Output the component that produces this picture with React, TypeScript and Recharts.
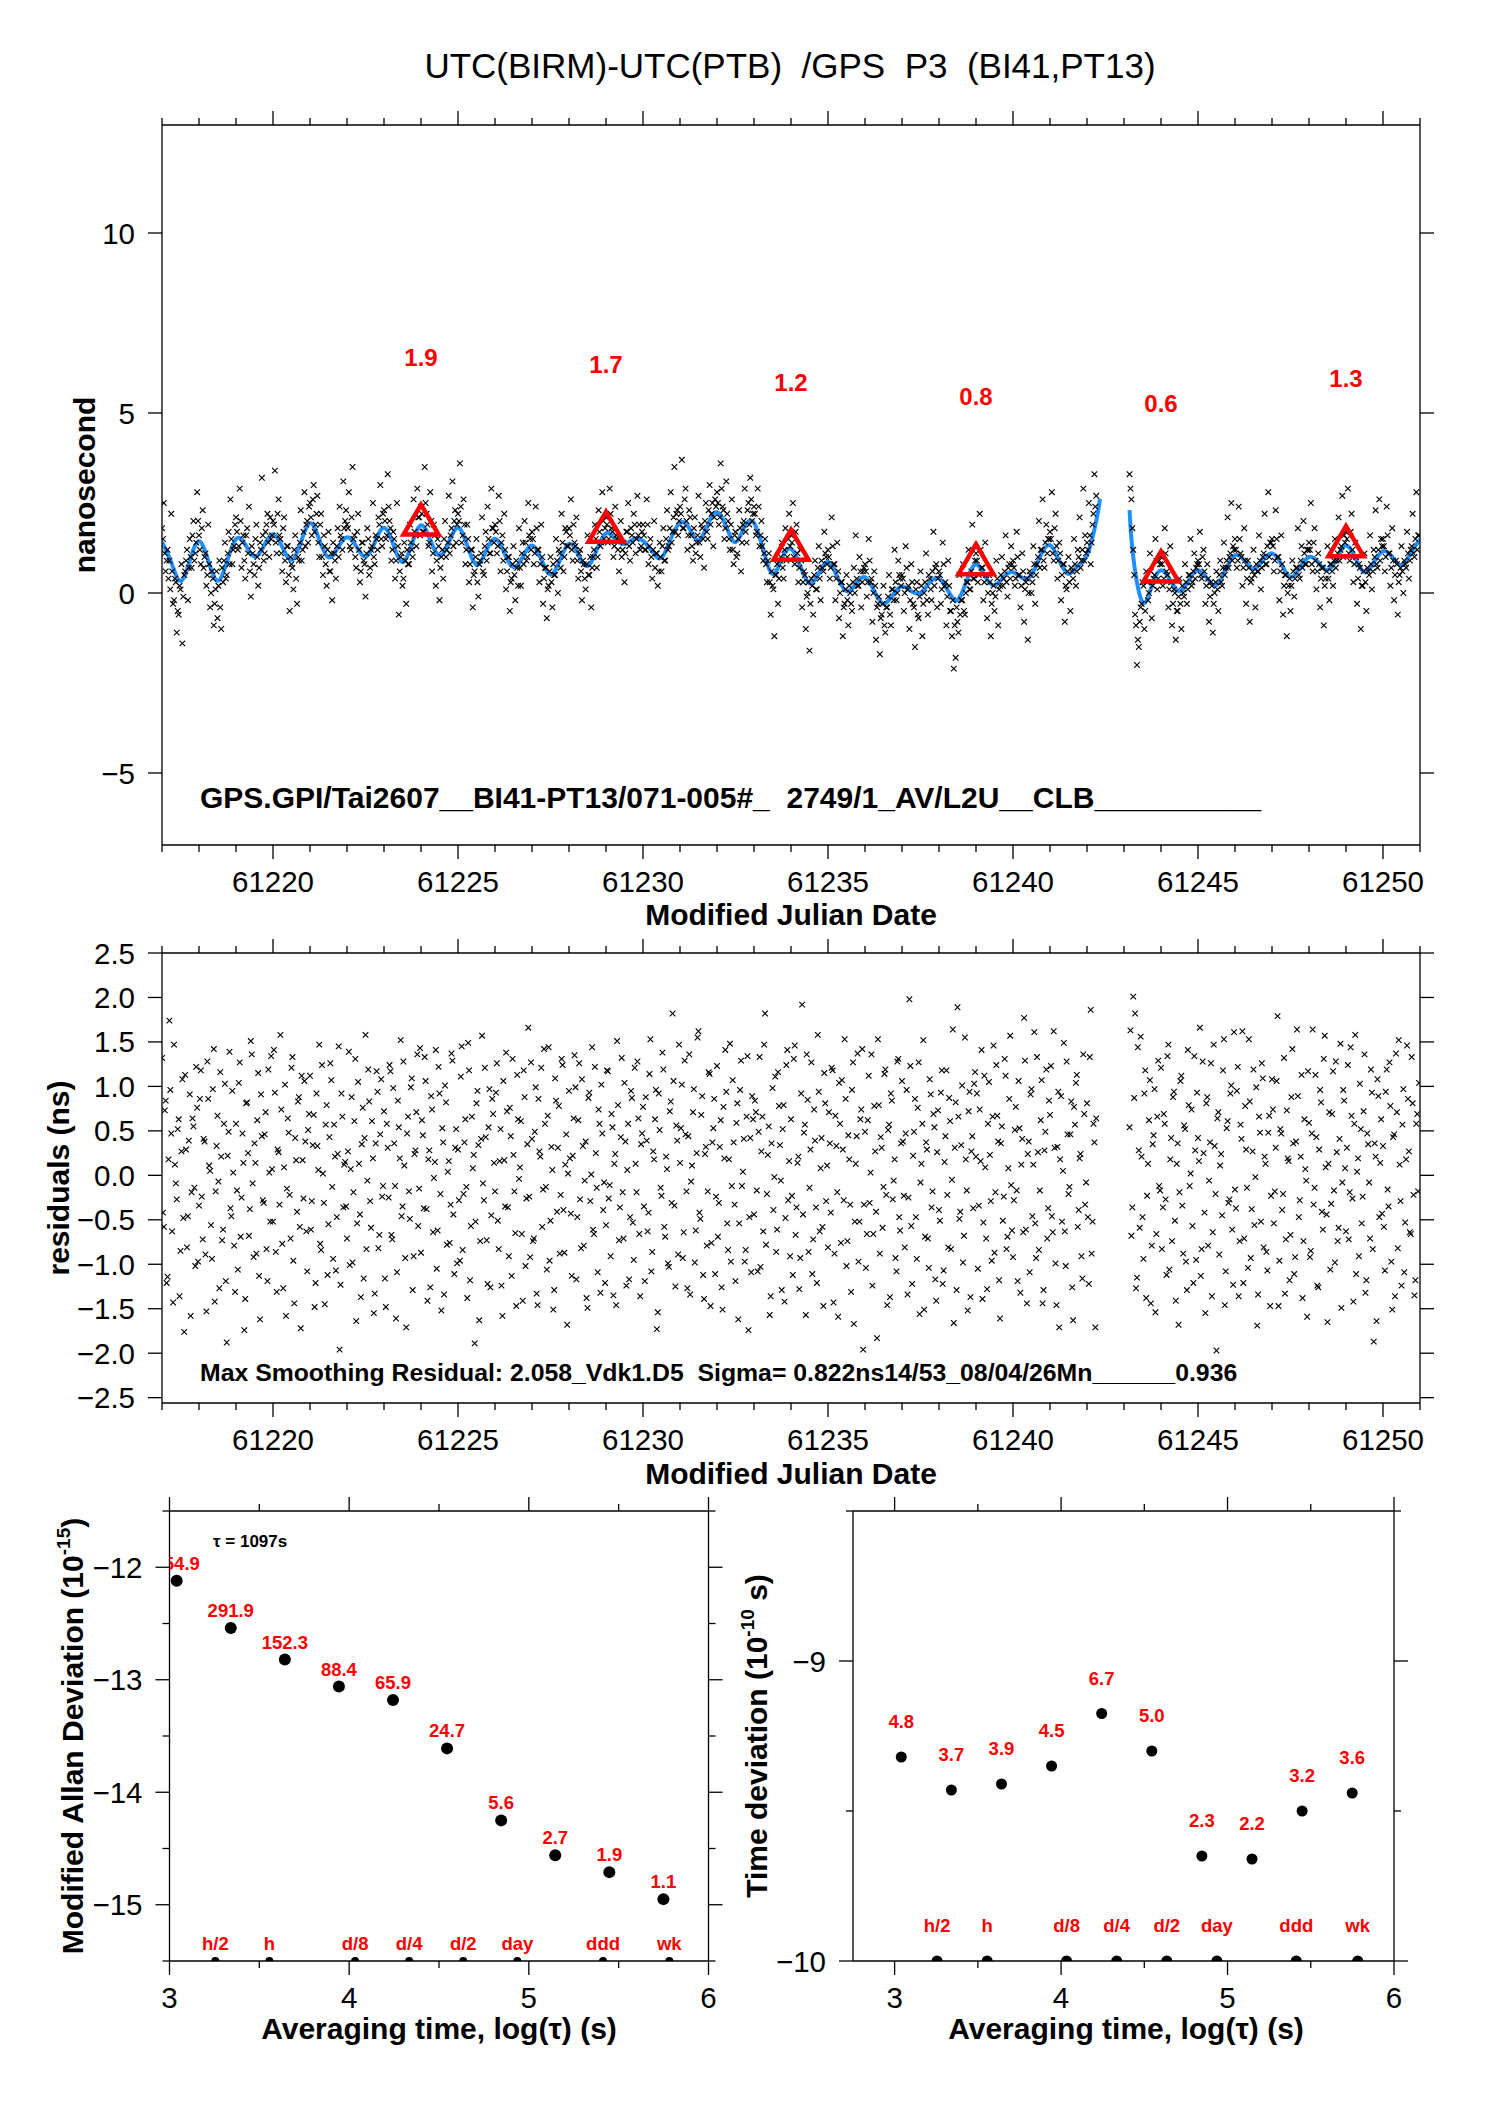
import React from 'react'
import { ComposedChart, Scatter, Line, XAxis, YAxis } from 'recharts'

const FONT = '"Liberation Sans", Arial, Helvetica, sans-serif'
const RED = '#ff0000'
const BLUE = '#1e90ff'

// GPS P3 common-view points: two interleaved runs, each one point per 0.05 day
const CLOCK_T0 = 61217
const CLOCK_T0_B = 61217.025
const CLOCK_STEP = 0.05

// UTC(BIRM)-UTC(PTB), ns (20 values per day), first run
const clockNs: (number | null)[] = [
  1.8, 2.5, 0.6, 1.2, 0.9, 2.2, -0.3, 0.4, -1.1, -0.6, 0.1, -1.4, 0.5, 0.9, -0.2, 1.5, 0.7, 2.0, 1.1, 2.8, // 61217
  1.6, 0.8, 2.3, 1.0, 0.2, 1.9, -0.4, 0.6, -0.9, 0.1, -0.7, 0.9, -1.0, 0.3, 1.4, 0.5, 1.7, 2.6, 0.8, 1.3, // 61218
  2.1, 1.2, 2.9, 0.7, 1.6, 0.4, 1.8, 2.4, -0.1, 1.1, 0.5, 1.9, 0.2, 1.4, 3.2, 0.9, 1.7, 2.2, 1.0, 1.5, // 61219
  2.0, 3.4, 1.1, 2.6, 1.5, 0.6, 2.1, 0.3, 1.3, -0.5, 0.8, 0.1, 1.6, -0.3, 0.9, 2.3, 1.2, 2.8, 1.9, 1.4, // 61220
  2.5, 1.6, 3.0, 1.9, 2.7, 1.0, 2.2, 0.5, 1.3, 0.2, 1.7, 0.6, -0.2, 1.1, 0.4, 1.8, 2.4, 1.5, 3.1, 2.0, // 61221
  1.9, 2.8, 1.2, 3.5, 1.6, 0.7, 2.2, 0.3, 1.4, 0.9, -0.1, 1.8, 0.5, 1.2, 2.5, 0.8, 1.5, 2.1, 3.0, 1.3, // 61222
  2.3, 1.5, 3.3, 2.0, 0.9, 1.7, 0.4, 2.5, -0.6, 1.0, 0.2, 1.4, -0.3, 0.8, 1.9, 1.2, 2.6, 1.6, 2.9, 2.1, // 61223
  2.4, 1.7, 3.5, 2.2, 1.3, 2.8, 0.6, 1.9, 0.2, 1.5, -0.2, 1.0, 0.4, 2.0, 1.2, 2.7, 1.6, 3.1, 2.0, 1.4, // 61224
  2.2, 3.6, 1.4, 2.6, 0.8, 1.9, 0.3, 1.2, -0.4, 0.6, 1.5, -0.1, 0.9, 2.1, 0.5, 1.7, 2.4, 1.1, 2.9, 1.8, // 61225
  1.9, 1.1, 2.7, 0.6, 1.6, 2.2, 0.1, 1.0, -0.5, 0.4, 1.3, -0.2, 0.7, 1.8, 0.2, 1.4, 2.0, 0.9, 2.5, 1.5, // 61226
  1.7, 0.8, 2.4, 1.2, 0.3, 1.9, -0.3, 0.7, -0.7, 0.2, 1.0, -0.4, 0.5, 1.5, 0.0, 1.1, 2.2, 0.6, 1.8, 1.3, // 61227
  1.8, 2.6, 0.9, 1.4, 2.1, 0.4, 1.2, -0.2, 0.8, 0.1, 1.6, 0.5, -0.4, 1.0, 1.9, 0.7, 2.3, 1.3, 2.8, 1.5, // 61228
  2.1, 1.4, 2.9, 1.8, 1.0, 2.4, 1.5, 0.6, 2.0, 1.2, 0.3, 1.7, 2.5, 0.9, 1.6, 2.2, 1.1, 2.7, 1.9, 1.3, // 61229
  1.9, 1.2, 2.6, 0.8, 1.5, 0.4, 2.0, 1.1, 0.2, 1.4, 0.6, 1.8, 0.9, 2.3, 1.3, 2.8, 1.7, 3.5, 2.2, 1.6, // 61230
  2.4, 3.7, 1.8, 2.9, 1.2, 2.3, 1.6, 0.9, 2.1, 1.4, 2.7, 1.0, 1.8, 0.7, 2.5, 1.5, 3.0, 2.2, 1.3, 2.6, // 61231
  2.8, 1.9, 3.6, 2.4, 1.5, 3.1, 2.0, 1.2, 2.6, 0.8, 1.7, 1.1, 2.3, 0.6, 1.9, 2.9, 1.4, 2.5, 3.2, 2.0, // 61232
  2.4, 1.6, 2.9, 1.3, 2.0, 0.9, 1.5, 0.3, 1.1, -0.6, 0.2, -1.2, 0.5, -0.3, 0.9, 1.4, 0.4, 1.8, 1.0, 2.2, // 61233
  1.6, 2.5, 0.8, 1.9, 0.3, 1.2, -0.4, 0.6, -1.0, 0.0, -1.6, 0.4, -0.6, 0.9, 0.1, 1.3, -0.2, 0.7, 1.7, 1.0, // 61234
  1.2, 0.4, 2.1, 0.8, -0.2, 1.4, -0.7, 0.3, -1.2, -0.3, 0.5, -0.9, 0.0, -0.5, 0.7, 1.6, 0.2, 1.0, -0.4, 0.6, // 61235
  0.8, -0.1, 1.5, 0.3, -0.8, 0.6, -1.3, -0.3, -1.7, -0.6, 0.2, -1.1, -0.4, 0.5, -0.9, 0.1, 1.2, -0.2, 0.9, 0.4, // 61236
  0.5, -0.5, 1.3, 0.1, -1.0, 0.8, -0.3, -1.5, 0.3, -0.7, 0.6, -1.2, 0.0, 1.1, -0.6, 0.4, -0.2, 1.7, 0.7, -0.4, // 61237
  0.6, -0.3, 1.4, 0.2, -0.9, 0.9, -0.5, -1.2, -2.1, -1.8, -0.8, 0.5, -0.2, 0.8, -0.6, 0.3, 1.2, 0.1, 1.9, 0.4, // 61238
  1.1, 0.3, 2.2, 0.7, -0.2, 1.4, -0.7, 0.5, -1.2, 0.0, -0.5, 0.9, -0.9, 0.2, 1.0, 0.4, 1.6, -0.1, 0.8, 1.3, // 61239
  0.9, 0.2, 1.7, 0.5, -0.4, 1.1, -0.8, 0.3, -1.3, 0.6, 0.0, 1.3, -0.3, 0.8, 2.0, 1.2, 2.6, 0.7, 1.9, 1.5, // 61240
  1.7, 2.8, 0.9, 2.2, 0.4, 1.4, -0.2, 0.8, -0.8, 0.1, 1.0, -0.5, 0.6, 1.5, 0.2, 1.2, 2.1, 0.9, 2.9, 1.6, // 61241
  1.4, 2.5, 0.8, 1.9, 3.3, 2.7, null, null, null, null, null, null, null, null, null, null, null, null, null, null, // 61242
  null, null, null, 3.3, 2.6, 1.2, -0.6, -2.0, -1.5, -0.4, 0.3, -1.0, 0.6, -0.2, 1.1, -0.7, 0.4, 1.5, 0.1, 0.9, // 61243
  1.0, 0.2, 1.8, 0.6, -0.4, 1.3, -0.9, 0.1, -1.3, -0.5, 0.4, -1.0, 0.0, 0.8, -0.3, 0.5, 1.5, 0.3, 1.1, 0.7, // 61244
  0.9, 1.7, 0.4, 1.2, -0.3, 0.8, -0.8, 0.3, -1.1, 0.0, 0.6, -0.5, 0.9, 0.2, 1.4, 0.7, 2.1, 1.0, 2.5, 1.3, // 61245
  1.5, 0.7, 2.4, 1.1, 0.2, 1.8, -0.3, 0.9, -0.8, 0.4, 1.2, -0.4, 0.6, 1.6, 0.1, 1.0, 2.2, 0.8, 2.8, 1.4, // 61246
  1.5, 0.6, 2.3, 1.0, -0.2, 1.6, -0.6, 0.5, -1.2, 0.2, -0.5, 0.9, -0.1, 0.7, 1.8, 0.4, 1.3, 2.0, 0.8, 1.2, // 61247
  1.4, 2.5, 0.6, 1.8, 0.1, 1.1, -0.4, 0.7, -0.9, 0.4, 1.3, -0.2, 0.8, 0.2, 1.5, 0.9, 2.1, 1.2, 2.7, 1.6, // 61248
  1.7, 2.9, 0.9, 2.2, 0.3, 1.4, -0.3, 0.8, -1.0, 0.2, 1.1, -0.5, 0.6, 1.6, 0.1, 1.2, 2.3, 0.7, 2.6, 1.5, // 61249
  1.5, 0.6, 2.4, 1.1, 0.2, 1.8, -0.2, 0.9, -0.6, 0.5, 1.3, 0.0, 0.8, 1.7, 0.4, 1.2, 2.2, 1.0, 2.8, 1.6, // 61250
]

// second run, offset by half a step
const clockNsB: (number | null)[] = [
  1.5, 1.1, 0.9, 0.4, 0.1, 0.6, -0.2, 0.3, -0.5, 0.2, 0.8, -0.1, 0.6, 1.2, 0.7, 1.0, 1.6, 0.9, 1.4, 2.0, // 61217
  1.2, 1.8, 0.7, 1.1, 0.5, 0.8, 0.0, 0.4, -0.3, 0.6, 0.2, -0.4, 0.7, 0.9, 0.4, 1.1, 0.8, 1.5, 1.2, 1.9, // 61218
  1.7, 1.3, 2.0, 1.4, 0.9, 1.6, 1.1, 0.6, 1.3, 0.8, 1.5, 1.0, 0.7, 1.2, 1.6, 1.1, 1.9, 1.4, 2.1, 1.6, // 61219
  1.9, 1.4, 2.2, 1.6, 1.1, 1.8, 0.9, 1.3, 0.5, 1.0, 0.7, 1.2, 0.4, 1.0, 1.4, 0.9, 1.7, 1.3, 2.0, 2.4, // 61220
  2.1, 2.6, 1.7, 2.2, 1.4, 1.9, 1.0, 1.6, 0.8, 1.2, 0.6, 1.1, 1.4, 0.9, 1.3, 1.0, 1.6, 1.2, 1.8, 2.3, // 61221
  1.8, 1.3, 2.1, 1.5, 1.0, 1.7, 1.2, 0.6, 1.4, 0.8, 1.1, 1.5, 0.7, 1.3, 1.0, 1.6, 1.2, 1.9, 1.5, 2.2, // 61222
  2.0, 1.6, 2.4, 1.8, 1.2, 1.5, 0.9, 1.3, 0.6, 1.1, 0.4, 0.9, 1.2, 0.8, 1.4, 1.0, 1.7, 1.3, 2.1, 1.6, // 61223
  2.2, 1.7, 2.5, 1.9, 1.4, 2.0, 1.1, 1.6, 0.9, 1.3, 0.7, 1.2, 1.5, 1.0, 1.4, 1.1, 1.8, 1.3, 2.3, 1.9, // 61224
  2.0, 2.4, 1.6, 1.9, 1.2, 1.5, 0.8, 1.2, 0.5, 1.0, 0.3, 0.8, 1.1, 0.6, 1.3, 0.9, 1.5, 1.1, 1.8, 1.4, // 61225
  1.7, 1.3, 2.0, 1.4, 0.9, 1.2, 0.6, 1.0, 0.3, 0.8, 0.5, 0.9, 0.2, 0.7, 1.1, 0.8, 1.4, 1.0, 1.6, 1.2, // 61226
  1.5, 1.1, 1.8, 1.2, 0.8, 1.0, 0.4, 0.7, 0.1, 0.6, 0.3, 0.8, 0.5, 0.9, 1.2, 0.7, 1.4, 1.0, 1.7, 1.3, // 61227
  1.6, 1.2, 1.9, 1.3, 0.9, 1.1, 0.6, 0.9, 0.4, 0.8, 0.5, 1.0, 0.7, 1.2, 1.5, 1.0, 1.7, 1.4, 2.0, 1.8, // 61228
  1.9, 1.5, 2.2, 1.7, 1.3, 1.6, 1.2, 1.5, 1.0, 1.4, 1.1, 1.7, 1.3, 1.8, 1.4, 1.9, 1.5, 1.6, 1.2, 1.7, // 61229
  1.6, 1.2, 1.9, 1.3, 1.0, 1.2, 0.7, 1.1, 0.6, 1.0, 1.3, 0.9, 1.5, 1.2, 1.8, 1.4, 2.1, 1.7, 2.3, 2.0, // 61230
  2.2, 1.8, 2.6, 2.0, 1.6, 2.1, 1.3, 1.8, 1.1, 1.6, 1.4, 1.9, 1.5, 2.0, 1.7, 2.3, 1.9, 2.5, 2.1, 2.4, // 61231
  2.5, 2.1, 2.9, 2.3, 1.8, 2.2, 1.5, 1.9, 1.2, 1.6, 1.0, 1.5, 1.8, 1.4, 2.0, 1.7, 2.3, 1.9, 2.6, 2.2, // 61232
  2.2, 1.7, 2.4, 1.6, 1.3, 1.1, 0.8, 0.9, 0.3, 0.6, 0.1, 0.5, 0.8, 0.4, 1.0, 0.7, 1.2, 0.9, 1.5, 1.3, // 61233
  1.4, 1.0, 1.7, 1.1, 0.7, 0.9, 0.3, 0.5, -0.1, 0.3, -0.3, 0.2, 0.5, 0.1, 0.7, 0.4, 0.9, 0.6, 1.1, 0.8, // 61234
  1.0, 0.7, 1.3, 0.8, 0.4, 0.6, 0.0, 0.3, -0.4, 0.1, -0.2, 0.2, -0.3, 0.3, 0.0, 0.4, 0.2, 0.6, 0.3, 0.7, // 61235
  0.6, 0.3, 0.9, 0.4, 0.0, 0.2, -0.4, -0.1, -0.7, -0.3, -0.9, -0.4, -0.1, -0.6, 0.1, -0.2, 0.3, 0.0, 0.5, 0.2, // 61236
  0.4, 0.0, 0.7, 0.2, -0.2, 0.3, -0.4, 0.1, -0.6, -0.1, 0.2, -0.3, 0.3, -0.2, 0.5, 0.1, 0.6, 0.2, 0.8, 0.4, // 61237
  0.5, 0.1, 0.8, 0.3, -0.1, 0.2, -0.5, -0.2, -0.9, -0.4, -1.1, -0.6, -0.2, -0.5, 0.0, 0.3, 0.1, 0.6, 0.4, 0.9, // 61238
  0.9, 0.5, 1.2, 0.7, 0.3, 0.5, 0.0, 0.3, -0.3, 0.2, -0.1, 0.4, 0.1, 0.5, 0.2, 0.6, 0.3, 0.7, 0.4, 0.8, // 61239
  0.7, 0.4, 1.0, 0.5, 0.2, 0.6, 0.1, 0.4, 0.0, 0.5, 0.3, 0.8, 0.5, 1.0, 0.7, 1.2, 0.9, 1.4, 1.1, 1.5, // 61240
  1.5, 1.1, 1.8, 1.3, 0.9, 1.1, 0.5, 0.8, 0.2, 0.6, 0.3, 0.7, 0.4, 0.8, 0.6, 1.0, 0.7, 1.2, 0.9, 1.1, // 61241
  1.2, 1.6, 1.4, 2.2, 2.4, null, null, null, null, null, null, null, null, null, null, null, null, null, null, null, // 61242
  null, null, null, 2.9, 1.8, 0.5, -0.9, -1.3, -0.8, -0.3, 0.2, -0.5, 0.3, 0.0, 0.6, 0.2, 0.5, 0.9, 0.4, 0.8, // 61243
  0.8, 0.4, 1.1, 0.5, 0.1, 0.3, -0.3, 0.0, -0.5, -0.1, -0.3, 0.2, -0.1, 0.3, 0.1, 0.5, 0.2, 0.6, 0.4, 0.8, // 61244
  0.8, 0.5, 1.0, 0.6, 0.2, 0.4, -0.1, 0.2, -0.3, 0.3, 0.1, 0.5, 0.3, 0.7, 0.5, 0.9, 0.7, 1.1, 0.9, 1.2, // 61245
  1.2, 0.9, 1.5, 1.0, 0.7, 0.9, 0.4, 0.7, 0.3, 0.6, 0.5, 0.8, 0.6, 0.9, 0.7, 1.1, 0.8, 1.3, 1.0, 1.4, // 61246
  1.3, 0.9, 1.5, 1.0, 0.6, 0.8, 0.2, 0.5, 0.0, 0.4, 0.2, 0.6, 0.4, 0.7, 0.5, 0.9, 0.7, 1.1, 0.8, 1.2, // 61247
  1.2, 0.8, 1.4, 0.9, 0.6, 0.8, 0.4, 0.7, 0.2, 0.6, 0.4, 0.8, 0.6, 0.9, 0.7, 1.1, 0.9, 1.3, 1.0, 1.4, // 61248
  1.5, 1.1, 1.7, 1.2, 0.8, 1.0, 0.4, 0.7, 0.2, 0.6, 0.3, 0.7, 0.5, 0.8, 0.6, 1.0, 0.8, 1.2, 0.9, 1.3, // 61249
  1.3, 1.0, 1.6, 1.1, 0.7, 0.9, 0.5, 0.8, 0.3, 0.7, 0.6, 0.9, 0.7, 1.1, 0.9, 1.3, 1.1, 1.5, 1.2, 1.6, // 61250
]

// residuals after smoothing, ns, first run
const residualNs: (number | null)[] = [
  1.32, -0.58, 0.84, -1.14, 1.74, 0.47, -1.43, 0.12, -0.27, 0.63, -0.85, 1.08, -1.76, 0.29, -0.46, 0.91, -0.19, 0.55, -1.02, 0.76,
  -0.34, 1.18, -0.72, 0.38, -1.53, 0.86, 0.05, -0.94, 1.42, -0.18, 0.67, -1.27, 0.21, -0.61, 1.03, -1.88, 0.49, -0.37, 0.95, -0.79,
  0.58, -1.06, 1.27, -0.25, 0.14, -1.39, 0.82, -0.68, 1.51, -0.09, 0.36, -0.88, 1.15, -1.62, 0.44, -0.31, 0.71, -1.19, 0.03, 1.34,
  -0.52, 0.93, -1.31, 0.26, 1.58, -0.77, 0.09, -1.58, 0.64, -0.22, 1.21, -0.96, 0.42, -0.41, 0.88, -1.72, 0.17, 1.06, -0.63, 0.51,
  1.12, -0.29, 0.68, -1.21, 0.33, 1.47, -0.84, 0.02, -1.45, 0.79, -0.55, 1.26, -0.13, 0.57, -1.07, 0.24, -1.96, 0.92, -0.36, 0.15,
  -0.71, 1.39, 0.07, -0.98, 0.61, -1.64, 1.05, -0.44, 0.35, -1.16, 1.58, -0.06, 0.83, -0.59, 0.19, -1.33, 1.17, -0.82, 0.46, -0.24,
  0.72, -1.48, 0.31, 1.24, -0.67, 0.98, -0.12, -1.09, 0.54, 1.52, -0.35, 0.11, -1.71, 0.66, -0.49, 1.09, -0.91, 0.28, 1.36, -0.15,
  -0.87, 0.45, 1.33, -0.38, 0.18, -1.26, 0.74, -0.03, 1.41, -0.62, 0.92, -1.52, 0.37, 1.01, -0.78, 0.16, -0.33, 1.29, -1.11, 0.52,
  0.29, -0.96, 1.45, -0.21, 0.63, -1.38, 1.18, -0.57, 0.08, -1.89, 0.81, 0.34, -0.74, 1.57, -0.28, 0.43, -1.22, 0.97, -0.45, 0.69,
  -0.18, 1.26, -0.83, 0.52, -1.58, 0.17, 1.38, -0.36, 0.76, -1.13, 0.23, -0.65, 1.13, -0.04, 0.61, -1.41, 0.88, -0.26, 1.66, -0.92,
  0.41, -0.71, 0.99, -1.46, 0.27, 1.21, -0.16, 0.58, -1.06, 1.44, -0.51, 0.06, -1.29, 0.84, 0.31, -0.88, 1.31, -0.39, 0.12, -1.68,
  0.95, -0.43, 0.22, 1.35, -1.17, 0.62, -0.27, 1.08, -0.79, 0.38, -1.49, 0.93, 0.01, -0.61, 1.22, -0.14, 0.74, -1.32, 0.47, -0.08,
  -0.56, 1.17, -0.11, 0.69, -1.35, 0.24, 1.51, -0.73, 0.43, -0.19, 1.04, -1.24, 0.58, -0.47, 0.87, -0.95, 0.13, 1.28, -0.66, 0.35,
  0.77, -1.19, 0.39, -0.42, 1.53, -0.86, 0.18, 0.96, -1.54, 0.51, -0.23, 1.19, -0.69, 0.07, -1.03, 0.83, 1.82, -0.34, 0.56, -0.89,
  0.14, 1.02, -0.64, 0.46, -1.27, 1.36, -0.07, 0.71, -0.98, 0.25, 1.62, -0.49, 0.89, -1.39, 0.32, -0.18, 1.14, -0.76, 0.53, -1.11,
  1.23, -0.31, 0.62, -1.51, 0.19, 0.94, -0.84, 1.48, -0.12, 0.37, -1.19, 0.81, -0.54, 1.29, 0.04, -0.97, 0.66, -1.74, 0.42, 0.89,
  -0.44, 0.71, -1.08, 1.33, 0.27, -0.63, 1.82, -0.21, 0.55, -1.36, 0.98, -0.02, -0.86, 1.16, 0.34, -1.29, 0.79, -0.48, 1.41, 0.16,
  0.63, -1.12, 1.46, -0.36, 0.21, -0.93, 1.92, 0.48, -1.57, 0.85, -0.14, 1.27, -0.72, 0.39, -1.21, 0.94, 0.08, -0.58, 1.15, -0.29,
  -0.81, 0.36, 1.21, -1.43, 0.67, -0.19, 1.04, -0.76, 0.29, 1.53, -1.02, 0.45, -0.33, 0.96, -1.67, 0.13, 1.37, -0.52, 0.74, -1.96,
  0.49, -0.66, 1.12, 0.03, -1.24, 0.78, -0.41, 1.53, -0.88, 0.31, -0.13, 1.19, -1.46, 0.57, 0.92, -0.27, 0.18, -1.08, 1.31, -0.62,
  1.06, -0.23, 0.47, -1.34, 1.98, -0.57, 0.22, 0.86, -0.94, 1.27, -0.08, 0.58, -1.51, 0.37, -0.71, 1.08, -0.36, 0.69, -1.17, 0.26,
  -0.39, 0.93, -1.22, 0.15, 1.18, -0.81, 0.61, -0.05, -1.66, 0.82, 1.89, -0.49, 0.34, -0.98, 1.55, -0.17, 0.72, -1.37, 0.44, 1.03,
  0.21, -1.05, 0.74, 1.41, -0.53, 0.09, -1.28, 1.05, -0.29, 0.66, -0.87, 1.24, 0.38, -1.61, 0.55, -0.24, 1.12, -0.69, 0.86, -0.11,
  -0.92, 0.51, -0.17, 1.06, -1.32, 0.41, 1.77, -0.61, 0.24, -1.09, 0.97, 0.12, -0.54, 1.33, -0.84, 0.62, -1.44, 0.28, 1.19, -0.37,
  0.68, -0.46, 1.62, -0.99, 0.32, -1.71, 0.89, 0.05, -0.63, 1.28, -0.21, 0.46, -1.26, 0.77, 1.04, -0.58, 0.19, -0.91, 1.36, -0.33,
  0.81, -1.22, 1.86, -0.52, 0.37, 0.64, null, null, null, null, null, null, null, null, null, null, null, null, null, null,
  null, null, null, 0.54, -0.68, 2.01, 1.82, -1.15, 0.28, 1.56, -0.47, 0.92, -1.38, 0.13, 1.07, -0.79, 0.45, -1.54, 0.66, -0.12,
  1.21, -0.36, 0.58, -1.12, 1.47, 0.18, -0.74, 0.94, -1.41, 0.36, -0.19, 1.12, -0.88, 0.52, -1.29, 0.79, 0.02, -0.57, 1.34, -0.95,
  0.42, 1.66, -0.83, 0.25, -1.55, 0.88, -0.06, 1.26, -0.64, 0.33, -1.97, 0.71, 0.11, -0.45, 1.53, -1.08, 0.61, -0.27, 1.01, -1.23,
  -0.16, 0.95, -1.36, 0.57, 1.62, -0.71, 0.29, -1.04, 0.83, -0.38, 1.19, -0.02, -1.69, 0.66, -0.52, 1.09, 0.21, -0.86, 0.48, -1.47,
  1.08, -0.54, 0.31, 1.79, -0.96, 0.47, -0.21, -1.33, 0.73, 0.16, -0.67, 1.42, -1.11, 0.38, 0.89, -0.28, 1.13, -0.74, 0.07, -1.59,
  0.59, -0.85, 1.64, -0.14, 0.43, -1.26, 0.96, -0.41, 1.31, 0.09, -1.65, 0.71, -0.32, 1.17, -0.98, 0.26, -0.59, 1.48, -0.08, 0.84,
  -0.63, 1.24, -0.19, 0.67, -1.42, 1.58, 0.04, -0.91, 0.52, -0.24, 1.36, -1.18, 0.35, -0.71, 0.93, -1.87, 0.21, 1.08, -0.47, 0.63,
  0.33, -1.07, 1.19, -0.35, 0.78, -1.51, 0.46, 1.37, -0.82, 0.12, -1.24, 0.97, -0.53, 1.46, 0.27, -0.66, 0.81, -1.35, 0.58, -0.18,
]

// residuals, second run
const residualNsB: (number | null)[] = [
  -0.42, 0.73, -1.21, 0.18, 0.96, -0.63, 1.47, -0.09, 0.52, -1.36, 0.27, -0.48, 1.13, -0.81, 0.39, -1.58, 0.64, -0.14, 1.22, -0.97,
  0.86, -0.24, 0.41, -0.89, 1.28, 0.11, -0.56, 0.97, -1.42, 0.33, -0.07, 1.16, -0.73, 0.58, -1.19, 0.22, 1.39, -0.46, 0.03, -1.31,
  -0.17, 1.04, -0.69, 0.47, -1.74, 0.81, 0.25, -0.38, 1.36, -0.92, 0.14, 0.62, -1.13, 0.91, -0.28, 0.46, -0.83, 1.19, -0.52, 0.07,
  1.41, -0.86, 0.29, -0.33, 0.74, -1.27, 1.02, -0.15, 0.48, -0.71, 1.33, -1.44, 0.17, 0.83, -0.58, 1.12, -0.26, 0.38, -1.08, 0.69,
  -0.61, 0.34, -1.48, 0.92, 0.06, -0.77, 1.24, -0.31, 0.57, -1.12, 0.43, 1.07, -0.94, 0.21, -0.47, 1.45, -1.23, 0.66, 0.12, -0.35,
  0.27, -1.01, 0.88, -0.19, 1.31, -0.54, 0.13, -1.37, 0.76, 0.42, -0.83, 1.19, -0.29, 0.61, -1.55, 0.36, 0.94, -0.67, 1.08, -0.12,
  -1.16, 0.58, -0.25, 1.17, -0.72, 0.36, -1.61, 0.84, 0.19, -0.46, 1.28, -0.93, 0.47, -0.18, 0.99, -1.29, 0.24, 0.71, -0.57, 1.43,
  0.62, -0.37, 1.06, -1.41, 0.28, 0.89, -0.64, 0.15, -1.05, 1.22, -0.21, 0.53, -1.34, 0.82, 0.04, -0.76, 1.37, -0.44, 0.31, -0.99,
  -0.28, 1.11, -0.84, 0.37, -0.13, 1.49, -1.18, 0.66, 0.23, -0.52, 0.95, -1.63, 0.41, -0.09, 1.21, -0.73, 0.54, -1.26, 0.86, 0.14,
  0.93, -0.51, 0.16, -1.24, 1.06, -0.35, 0.72, -0.91, 0.44, 1.31, -0.18, -1.47, 0.63, 0.09, -0.66, 1.18, -1.02, 0.35, -0.24, 1.27,
  -0.74, 0.49, -1.33, 0.86, 0.21, -0.58, 1.42, -0.13, 0.67, -0.96, 0.32, -1.51, 1.09, -0.41, 0.78, -0.22, 1.24, -0.87, 0.46, 0.02,
  0.19, -1.13, 0.64, 0.99, -0.47, 1.26, -0.82, 0.33, -0.06, -1.38, 0.87, -0.29, 1.44, -0.66, 0.25, -1.09, 0.58, 1.02, -0.39, -1.21,
  1.18, -0.26, -0.91, 0.54, 0.13, -1.46, 0.79, -0.36, 1.32, -0.71, 0.38, 0.06, -1.17, 0.95, -0.53, 1.21, -0.19, 0.64, -1.36, 0.47,
  -0.35, 0.88, -0.63, 1.14, -1.08, 0.27, 0.63, -1.73, 0.92, -0.14, 1.38, -0.58, 0.21, -0.99, 0.72, -0.31, 1.06, -1.25, 0.39, 1.47,
  0.53, -0.93, 1.29, -0.18, 0.44, -1.34, 0.11, 0.97, -0.62, 1.55, -0.42, 0.68, -1.12, 0.24, -0.79, 1.16, -1.47, 0.37, 0.86, -0.24,
  -0.69, 0.32, -1.26, 0.77, 1.41, -0.54, 0.18, -0.97, 1.07, -0.33, 0.59, -1.62, 0.96, -0.12, 0.41, -0.84, 1.34, -0.47, -1.09, 0.63,
  0.84, -0.17, 0.49, -1.03, 0.66, 1.47, -0.78, 0.23, -1.57, 0.36, -0.39, 1.11, -0.61, 0.78, -0.06, 0.52, -1.42, 1.24, -0.28, -0.91,
  -0.23, 1.31, -0.67, 0.14, -1.28, 0.92, -0.44, 0.57, 1.36, -0.86, 0.29, -1.11, 0.74, -0.36, 1.58, -0.63, 0.42, -1.47, 0.81, 0.11,
  0.71, -0.42, 1.18, -0.88, 0.33, -1.59, 0.58, 1.07, -0.28, 0.86, -0.74, 0.18, -1.31, 1.27, -0.52, 0.44, -0.97, 0.63, 1.42, -0.33,
  -1.04, 0.62, -0.31, 1.36, -0.66, 0.27, -1.83, 0.79, 0.43, -0.59, 1.14, -0.22, 0.51, -1.37, 0.84, -0.06, -0.93, 1.28, -0.47, 0.36,
  0.38, -0.81, 0.96, -0.25, 1.23, -1.22, 0.49, -0.47, 0.76, -1.56, 0.13, 1.52, -0.69, 0.29, -1.04, 0.91, -0.18, 0.54, -1.41, 0.73,
  -0.51, 1.18, -1.07, 0.44, -0.22, 0.87, -0.83, 1.64, 0.31, -1.29, 0.66, -0.41, 1.01, -0.68, 0.18, -1.52, 0.94, 0.27, -0.37, 1.16,
  0.92, -0.34, 0.16, -1.39, 1.12, -0.71, 0.58, 0.23, -0.96, 1.46, -0.19, 0.67, -1.18, 0.36, -0.51, 1.31, -0.83, 0.08, 1.57, -0.62,
  -0.28, 0.77, -1.19, 0.53, 0.12, -0.64, 1.29, -1.44, 0.38, 0.91, -0.46, 1.61, -0.93, 0.26, -0.17, 1.07, -1.29, 0.49, -0.71, 0.84,
  1.23, -0.64, 0.31, -1.46, 0.94, 0.18, -0.52, 1.49, -1.02, 0.46, -0.13, 0.83, -1.63, 0.57, 1.13, -0.39, 0.24, -1.16, 0.69, -0.08,
  -0.47, 1.33, -0.88, 0.58, -1.71, null, null, null, null, null, null, null, null, null, null, null, null, null, null, null,
  null, null, null, 1.63, -0.36, 0.87, -1.27, 1.44, -0.59, 0.21, -0.94, 1.18, -0.23, 0.62, -1.44, 0.35, 0.97, -0.66, 1.29, -0.17,
  -0.83, 0.69, -0.27, 1.34, -1.06, 0.42, 0.88, -0.51, 0.13, -1.68, 1.06, -0.34, 0.56, -0.97, 1.41, -0.12, 0.74, -1.21, 0.28, 0.93,
  0.16, -1.13, 1.28, -0.42, 0.81, -0.79, 0.37, -1.36, 1.47, -0.21, 0.64, -0.89, 0.24, 1.18, -1.46, 0.53, -0.31, 0.92, -0.61, 1.61,
  -0.37, 1.22, -0.74, 0.41, -1.21, 0.78, -0.14, 1.53, -0.93, 0.27, -0.56, 0.99, -1.34, 0.48, 1.26, -0.81, 0.13, -1.07, 0.67, -0.23,
  0.74, -0.18, 1.06, -1.47, 0.52, -0.39, 1.32, -0.72, 0.19, -1.18, 0.88, 0.36, -0.92, 1.64, -0.47, 0.21, -1.38, 0.63, -0.06, 1.17,
  -0.92, 0.47, -0.33, 1.13, -1.24, 0.29, 0.82, -0.61, 1.57, -0.44, 0.13, -1.06, 0.69, -0.17, 1.28, -0.74, 0.41, -1.49, 0.96, 0.08,
  0.31, -0.72, 1.44, -0.26, 0.58, -1.11, 0.19, 1.03, -0.54, 0.72, -1.32, 0.47, -0.08, 1.19, -0.83, 0.36, -1.64, 0.89, 0.14, -0.43,
  -0.58, 0.94, -0.16, 1.27, -0.97, 0.43, -1.36, 0.71, 1.52, -0.29, 0.57, -1.09, 0.18, 0.86, -0.64, 1.33, -0.22, -1.18, 0.69, 1.04,
]

// smoothed curve, every 0.25 day from MJD 61217.0 (ns)
const SMOOTH_T0 = 61217
const SMOOTH_STEP = 0.25
const smoothNs: (number | null)[] = [
  1.41, 0.85, 0.33, 0.9, 1.44, 0.9, 0.34, 0.85, 1.5, 1.35, 1.01, 1.3, 1.63, 1.28, 0.92, 1.4,
  1.94, 1.48, 0.99, 1.25, 1.55, 1.3, 1.01, 1.4, 1.81, 1.35, 0.86, 1.35, 1.88, 1.47, 1.04, 1.4,
  1.81, 1.32, 0.79, 1.15, 1.51, 1.12, 0.72, 1.0, 1.32, 0.93, 0.51, 0.9, 1.37, 1.07, 0.75, 1.2,
  1.66, 1.5, 1.36, 1.5, 1.45, 1.15, 0.98, 1.5, 1.95, 1.8, 1.46, 1.9, 2.25, 1.85, 1.41, 1.85,
  1.95, 1.2, 0.53, 0.95, 1.23, 0.75, 0.27, 0.55, 0.86, 0.45, 0.05, 0.25, 0.44, 0.05, -0.3, -0.05,
  0.18, 0.05, 0.0, 0.3, 0.4, 0.05, -0.2, 0.35, 0.79, 0.45, 0.22, 0.45, 0.58, 0.42, 0.5, 1.05,
  1.33, 0.9, 0.53, 0.75, 1.05, 2.0, null, null, null, 1.0, -0.25, 0.2, 0.63, 0.35, 0.05, 0.35,
  0.63, 0.4, 0.22, 0.65, 1.05, 0.9, 0.67, 0.9, 1.1, 0.8, 0.44, 0.7, 1.0, 0.85, 0.63, 0.95,
  1.32, 0.97, 0.58, 0.85, 1.16, 1.0, 0.77, 1.1, 1.5,
]
// ends of the curve on both sides of the data gap
const gapEdgeMjd = [61242.35, 61243.15]
const gapEdgeNs = [2.62, 2.3]

// 5-day markers
const weekMjd = [61224, 61229, 61234, 61239, 61244, 61249]
const weekNs = [1.9, 1.7, 1.2, 0.8, 0.6, 1.3]

// stability, log(tau)
const logTau = [3.04, 3.341, 3.642, 3.943, 4.244, 4.545, 4.846, 5.147, 5.448, 5.749]
const mdevLog = [-12.12, -12.54, -12.82, -13.06, -13.18, -13.61, -14.25, -14.56, -14.71, -14.95]
const mdevLabels = ['554.9', '291.9', '152.3', '88.4', '65.9', '24.7', '5.6', '2.7', '1.9', '1.1']
const tdevLog = [-9.32, -9.43, -9.41, -9.35, -9.175, -9.3, -9.65, -9.66, -9.5, -9.44]
const tdevLabels = ['4.8', '3.7', '3.9', '4.5', '6.7', '5.0', '2.3', '2.2', '3.2', '3.6']
const markerLogTau = [3.255, 3.556, 4.033, 4.334, 4.635, 4.936, 5.413, 5.782]
const markerNames = ['h/2', 'h', 'd/8', 'd/4', 'd/2', 'day', 'ddd', 'wk']

// ticks
const mjdLabelled = [61220, 61225, 61230, 61235, 61240, 61245, 61250]
const mjdDays = Array.from({ length: 35 }, (_, i) => 61217 + i)
const nsTicks = [-5, 0, 5, 10]
const resTicks = [-2.5, -2, -1.5, -1, -0.5, 0, 0.5, 1, 1.5, 2, 2.5]
const tauTicks = [3, 3.5, 4, 4.5, 5, 5.5, 6]
const tauLabelled = [3, 4, 5, 6]
const mdevTicks = [-15.5, -15, -14.5, -14, -13.5, -13, -12.5, -12, -11.5]
const mdevLabelled = [-15, -14, -13, -12]
const tdevTicks = [-10, -9.5, -9, -8.5]
const tdevLabelled = [-10, -9]

const toPoints = (vals: (number | null)[], t0: number) =>
  vals.flatMap((y, i) => (y === null ? [] : [{ x: t0 + i * CLOCK_STEP, y }]))

const clockPoints = [...toPoints(clockNs, CLOCK_T0), ...toPoints(clockNsB, CLOCK_T0_B)]
const residualPoints = [...toPoints(residualNs, CLOCK_T0), ...toPoints(residualNsB, CLOCK_T0_B)]
const smoothPoints = [
  ...smoothNs.map((y, i) => ({ x: SMOOTH_T0 + i * SMOOTH_STEP, y })),
  ...gapEdgeMjd.map((x, i) => ({ x, y: gapEdgeNs[i] as number | null })),
].sort((a, b) => a.x - b.x)
const weekPoints = weekMjd.map((x, i) => ({ x, y: weekNs[i], label: weekNs[i].toFixed(1) }))
const mdevPoints = logTau.map((x, i) => ({ x, y: mdevLog[i], label: mdevLabels[i] }))
const tdevPoints = logTau.map((x, i) => ({ x, y: tdevLog[i], label: tdevLabels[i] }))
const mdevMarkers = markerLogTau.map((x, i) => ({ x, y: -15.5, label: markerNames[i] }))
const tdevMarkers = markerLogTau.map((x, i) => ({ x, y: -10, label: markerNames[i] }))

const minus = (v: number) => (v < 0 ? '\u2212' : '')
const fmtInt = (v: number) => minus(v) + Math.abs(v)
const fmtOne = (v: number) => minus(v) + Math.abs(v).toFixed(1)

type Side = 'bottom' | 'top' | 'left' | 'right'

function axisTick(side: Side, majors: number[], format: ((v: number) => string) | null) {
  return function Tick(props: any) {
    const { x, y, payload } = props
    const v: number = payload.value
    const major = majors.some((m) => Math.abs(m - v) < 1e-6)
    const len = major ? 14 : 7
    let x2 = x
    let y2 = y
    if (side === 'bottom') y2 = y + len
    if (side === 'top') y2 = y - len
    if (side === 'left') x2 = x - len
    if (side === 'right') x2 = x + len
    const text = major && format ? format(v) : null
    return (
      <g>
        <line x1={x} y1={y} x2={x2} y2={y2} stroke="#000" strokeWidth={1.3} />
        {text !== null && side === 'bottom' && (
          <text x={x} y={y + 47} textAnchor="middle" fontSize={29.5} fontFamily={FONT} fill="#000">
            {text}
          </text>
        )}
        {text !== null && side === 'left' && (
          <text x={x - 27} y={y + 10.5} textAnchor="end" fontSize={29.5} fontFamily={FONT} fill="#000">
            {text}
          </text>
        )}
      </g>
    )
  }
}

interface FrameOpts {
  xDomain: [number, number]
  yDomain: [number, number]
  xTicks: number[]
  xMajor: number[]
  xFmt: (v: number) => string
  yTicks: number[]
  yMajor: number[]
  yFmt: (v: number) => string
}

const AXIS_LINE = { stroke: '#000', strokeWidth: 1.3 }

// four axes drawn as a frame; each axis box is 1px, margins are trimmed by 1px to match
function frameAxes(o: FrameOpts) {
  return [
    <XAxis key="xb" xAxisId="b" orientation="bottom" type="number" dataKey="x" height={1} domain={o.xDomain}
      allowDataOverflow ticks={o.xTicks} interval={0} tickLine={false} tickSize={0} tickMargin={0}
      axisLine={AXIS_LINE} tick={axisTick('bottom', o.xMajor, o.xFmt)} />,
    <XAxis key="xt" xAxisId="t" orientation="top" type="number" dataKey="x" height={1} domain={o.xDomain}
      allowDataOverflow ticks={o.xTicks} interval={0} tickLine={false} tickSize={0} tickMargin={0}
      axisLine={AXIS_LINE} tick={axisTick('top', o.xMajor, null)} />,
    <YAxis key="yl" yAxisId="l" orientation="left" type="number" dataKey="y" width={1} domain={o.yDomain}
      allowDataOverflow ticks={o.yTicks} interval={0} tickLine={false} tickSize={0} tickMargin={0}
      axisLine={AXIS_LINE} tick={axisTick('left', o.yMajor, o.yFmt)} />,
    <YAxis key="yr" yAxisId="r" orientation="right" type="number" dataKey="y" width={1} domain={o.yDomain}
      allowDataOverflow ticks={o.yTicks} interval={0} tickLine={false} tickSize={0} tickMargin={0}
      axisLine={AXIS_LINE} tick={axisTick('right', o.yMajor, null)} />,
  ]
}

function Cross(props: any) {
  const { cx, cy } = props
  if (cx == null || cy == null) return <g />
  const d = 2.8
  return (
    <path d={`M${cx - d},${cy - d}L${cx + d},${cy + d}M${cx - d},${cy + d}L${cx + d},${cy - d}`}
      stroke="#000" strokeWidth={1.1} fill="none" />
  )
}

function WeekMark(props: any) {
  const { cx, cy, payload } = props
  const h = 30
  const w = 35
  const pts = `${cx},${cy - (2 * h) / 3} ${cx - w / 2},${cy + h / 3} ${cx + w / 2},${cy + h / 3}`
  return (
    <g>
      <polygon points={pts} fill="none" stroke={RED} strokeWidth={4.5} />
      <text x={cx} y={cy - 159} textAnchor="middle" fill={RED} fontSize={24} fontWeight="bold" fontFamily={FONT}>
        {payload.label}
      </text>
    </g>
  )
}

function dotWithLabel(r: number, gap: number) {
  return function DotLabel(props: any) {
    const { cx, cy, payload } = props
    return (
      <g>
        <circle cx={cx} cy={cy} r={r} fill="#000" />
        <text x={cx} y={cy - gap} textAnchor="middle" fill={RED} fontSize={18.5} fontWeight="bold" fontFamily={FONT}>
          {payload.label}
        </text>
      </g>
    )
  }
}

const box = (left: number, top: number): React.CSSProperties => ({ position: 'absolute', left, top })

export default function App() {
  return (
    <div style={{ position: 'relative', width: 1488, height: 2105, background: '#fff', overflow: 'hidden' }}>
      <style>{'body{margin:0}'}</style>

      {/* clock difference */}
      <div style={box(0, 0)}>
        <ComposedChart width={1488} height={960} margin={{ top: 124, right: 67, bottom: 114, left: 161 }}>
          {frameAxes({
            xDomain: [61217, 61251], yDomain: [-7, 13],
            xTicks: mjdDays, xMajor: mjdLabelled, xFmt: fmtInt,
            yTicks: nsTicks, yMajor: nsTicks, yFmt: fmtInt,
          })}
          <Scatter xAxisId="b" yAxisId="l" data={clockPoints} shape={Cross} isAnimationActive={false} />
          <Line xAxisId="b" yAxisId="l" data={smoothPoints} dataKey="y" type="natural" stroke={BLUE}
            strokeWidth={4} dot={false} activeDot={false} connectNulls={false} isAnimationActive={false} />
          <Scatter xAxisId="b" yAxisId="l" data={weekPoints} shape={WeekMark} isAnimationActive={false} />
        </ComposedChart>
      </div>

      {/* residuals */}
      <div style={box(0, 930)}>
        <ComposedChart width={1488} height={560} margin={{ top: 22, right: 67, bottom: 86, left: 161 }}>
          {frameAxes({
            xDomain: [61217, 61251], yDomain: [-2.56, 2.5],
            xTicks: mjdDays, xMajor: mjdLabelled, xFmt: fmtInt,
            yTicks: resTicks, yMajor: resTicks, yFmt: fmtOne,
          })}
          <Scatter xAxisId="b" yAxisId="l" data={residualPoints} shape={Cross} isAnimationActive={false} />
        </ComposedChart>
      </div>

      {/* modified Allan deviation */}
      <div style={box(0, 1480)}>
        <ComposedChart width={744} height={625} margin={{ top: 30, right: 34.5, bottom: 143, left: 168.5 }}>
          {frameAxes({
            xDomain: [3, 6], yDomain: [-15.5, -11.5],
            xTicks: tauTicks, xMajor: tauLabelled, xFmt: fmtInt,
            yTicks: mdevTicks, yMajor: mdevLabelled, yFmt: fmtInt,
          })}
          <Scatter xAxisId="b" yAxisId="l" data={mdevMarkers} shape={dotWithLabel(4, 11)} isAnimationActive={false} />
          <Scatter xAxisId="b" yAxisId="l" data={mdevPoints} shape={dotWithLabel(6, 11)} isAnimationActive={false} />
        </ComposedChart>
      </div>

      {/* time deviation */}
      <div style={box(744, 1480)}>
        <ComposedChart width={744} height={625} margin={{ top: 30, right: 93, bottom: 143, left: 108 }}>
          {frameAxes({
            xDomain: [2.75, 6], yDomain: [-10, -8.5],
            xTicks: tauTicks, xMajor: tauLabelled, xFmt: fmtInt,
            yTicks: tdevTicks, yMajor: tdevLabelled, yFmt: fmtInt,
          })}
          <Scatter xAxisId="b" yAxisId="l" data={tdevMarkers} shape={dotWithLabel(5.5, 29)} isAnimationActive={false} />
          <Scatter xAxisId="b" yAxisId="l" data={tdevPoints} shape={dotWithLabel(5.5, 29)} isAnimationActive={false} />
        </ComposedChart>
      </div>

      {/* titles and notes */}
      <svg width={1488} height={2105} style={{ position: 'absolute', left: 0, top: 0, pointerEvents: 'none' }}
        fontFamily={FONT} fill="#000">
        <text x={790} y={78} textAnchor="middle" fontSize={35} xmlSpace="preserve" style={{ whiteSpace: 'pre' }}>
          UTC(BIRM)-UTC(PTB)  /GPS  P3  (BI41,PT13)
        </text>
        <text transform="translate(95,485) rotate(-90)" textAnchor="middle" fontSize={30} fontWeight="bold">
          nanosecond
        </text>
        <text x={200} y={808} fontSize={30} fontWeight="bold" xmlSpace="preserve" style={{ whiteSpace: 'pre' }}>
          GPS.GPI/Tai2607__BI41-PT13/071-005#_  2749/1_AV/L2U__CLB__________
        </text>
        <text x={791} y={925} textAnchor="middle" fontSize={30} fontWeight="bold">Modified Julian Date</text>

        <text transform="translate(69,1178) rotate(-90)" textAnchor="middle" fontSize={30} fontWeight="bold">
          residuals (ns)
        </text>
        <text x={200} y={1381} fontSize={24.8} fontWeight="bold" xmlSpace="preserve" style={{ whiteSpace: 'pre' }}>
          Max Smoothing Residual: 2.058_Vdk1.D5  Sigma= 0.822ns14/53_08/04/26Mn______0.936
        </text>
        <text x={791} y={1484} textAnchor="middle" fontSize={30} fontWeight="bold">Modified Julian Date</text>

        <text transform="translate(83,1736) rotate(-90)" textAnchor="middle" fontSize={30} fontWeight="bold">
          Modified Allan Deviation (10<tspan dy={-13} fontSize={19}>-15</tspan><tspan dy={13}>)</tspan>
        </text>
        <text x={213} y={1547} fontSize={17} fontWeight="bold">τ = 1097s</text>
        <text x={439} y={2039} textAnchor="middle" fontSize={30} fontWeight="bold">Averaging time, log(τ) (s)</text>

        <text transform="translate(767,1736) rotate(-90)" textAnchor="middle" fontSize={30} fontWeight="bold">
          Time deviation (10<tspan dy={-13} fontSize={19}>-10</tspan><tspan dy={13}> s)</tspan>
        </text>
        <text x={1126} y={2039} textAnchor="middle" fontSize={30} fontWeight="bold">Averaging time, log(τ) (s)</text>
      </svg>
    </div>
  )
}
